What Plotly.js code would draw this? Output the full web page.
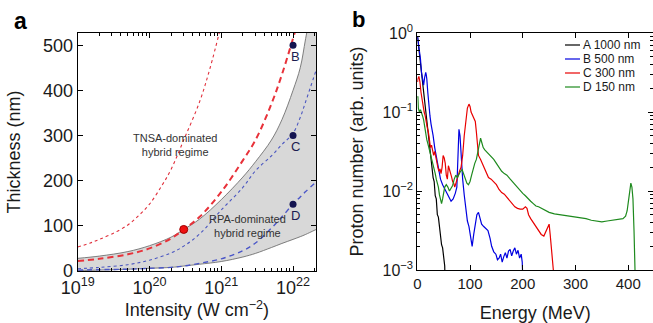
<!DOCTYPE html>
<html>
<head>
<meta charset="utf-8">
<script src="https://cdn.plot.ly/plotly-3.0.1.min.js"></script>
<style>html,body{margin:0;padding:0;background:#fff;}#chart{width:653px;height:323px;}</style>
</head>
<body>
<div id="chart"></div>
<script>
// ---------- Panel a data (intensity in W cm^-2, thickness in nm) ----------
const intensity = [1e19, 2e19, 5e19, 1e20, 2e20, 3e20, 5e20, 1e21, 2e21, 3e21, 5e21, 7e21, 1e22, 1.26e22, 1.5e22, 2.1e22];
const grayUpper = [28, 33, 43, 56, 75, 92, 115, 158, 208, 242, 290, 335, 400, 450, 515, 640];
const grayLower = [1, 2, 4, 6, 8, 11, 15, 21, 31, 39, 52, 61, 70, 76, 81, 92];
const redDashed = [22, 27, 37, 50, 72, 92, 120, 175, 245, 290, 370, 435, 515, 570, 620, 720];
const blueDotted = [5, 8, 14, 24, 40, 55, 82, 135, 185, 222, 255, 280, 305, 340, 375, 445];
const blueDashed = [2, 3, 4, 6, 8, 11, 17, 27, 45, 62, 95, 120, 148, 164, 176, 197];
const intensityTNSA = [1e19, 1.5e19, 2e19, 3e19, 5e19, 7e19, 1e20, 1.5e20, 2e20, 3e20, 5e20, 7e20, 1e21];
const redDotted = [53, 62, 70, 82, 102, 122, 148, 190, 225, 290, 375, 450, 545];
const caseIntensity = [1e22, 1e22, 1e22];
const caseThickness = [500, 300, 148];
const caseLabels = ['B', 'C', 'D'];
const optIntensity = [3e20];
const optThickness = [92];

// ---------- Panel b data (energy in MeV, log10 of proton number) ----------
const seriesNames = ['A 1000 nm', 'B 500 nm', 'C 300 nm', 'D 150 nm'];
const seriesColors = ['#000000', '#0000e0', '#e80000', '#1e8a1e'];
const energyA = [0.5, 2, 4, 6, 8, 10, 12, 14, 16, 18, 20, 22, 24, 26, 28, 30, 32, 34, 36, 38, 40, 42, 44, 46, 48, 50, 52, 53];
const log10A = [-0.05, -0.14, -0.22, -0.38, -0.47, -0.63, -0.72, -0.9, -1.0, -1.12, -1.2, -1.36, -1.42, -1.6, -1.66, -1.83, -1.88, -2.06, -2.1, -2.3, -2.33, -2.47, -2.53, -2.68, -2.72, -2.88, -2.95, -3.3];
const energyB = [0.5,2,4,6,8,10,12,14,16,17,18,20,22,24,26,28,30,33,36,40,44,48,52,56,60,64,68,72,75,77,79,81,83,86,89,92,95,98,101,104,107,110,113,116,119,122,126,130,134,138,141,145,149,152,155,158,161,164,167,170,173,176,179,182,185,188,191,194,197,199,201];
const log10B = [-0.05,-0.12,-0.28,-0.33,-0.5,-0.6,-0.66,-0.56,-0.5,-0.53,-0.58,-0.76,-0.95,-1.05,-1.15,-1.22,-1.3,-1.45,-1.55,-1.7,-1.85,-1.92,-1.97,-2.02,-2.08,-2.13,-2.1,-2.03,-1.95,-1.6,-1.22,-1.3,-1.6,-1.85,-2.05,-2.25,-2.38,-2.45,-2.6,-2.7,-2.55,-2.4,-2.3,-2.27,-2.33,-2.42,-2.45,-2.48,-2.5,-2.6,-2.7,-2.77,-2.8,-2.87,-2.85,-2.8,-2.9,-2.83,-2.78,-2.85,-2.76,-2.74,-2.82,-2.76,-2.72,-2.8,-2.75,-2.85,-2.8,-2.9,-3.3];
const energyC = [0.5,1,3,5,7,9,11,13,15,17,19,21,23,25,27,29,31,33,35,37,39,41,43,45,47,49,51,53,55,57,59,61,63,65,67,69,71,73,75,77,80,83,86,89,92,95,98,100,102,104,106,108,110,112,114,116,120,125,130,135,140,145,150,155,160,165,170,175,180,185,190,195,200,205,208,211,215,220,225,230,235,240,244,248,250,252,254,256,258,259];
const log10C = [-0.62,-0.58,-0.55,-0.62,-0.75,-0.85,-0.95,-1.0,-1.05,-1.15,-1.2,-1.25,-1.35,-1.45,-1.42,-1.5,-1.55,-1.5,-1.6,-1.63,-1.7,-1.75,-1.72,-1.78,-1.7,-1.55,-1.58,-1.65,-1.8,-1.85,-1.68,-1.72,-1.78,-1.82,-1.88,-1.9,-1.95,-1.9,-1.85,-1.8,-1.75,-1.7,-1.55,-1.3,-1.1,-0.95,-0.9,-0.93,-1.0,-1.03,-1.05,-1.08,-1.12,-1.25,-1.45,-1.55,-1.6,-1.67,-1.75,-1.83,-1.85,-1.88,-1.92,-1.98,-2.02,-2.04,-2.08,-2.13,-2.17,-2.2,-2.22,-2.23,-2.23,-2.2,-2.22,-2.3,-2.35,-2.4,-2.45,-2.5,-2.55,-2.57,-2.5,-2.45,-2.42,-2.55,-2.7,-2.85,-3.0,-3.3];
const energyD = [0.5,1,2,4,6,8,10,12,14,16,18,20,22,24,26,28,30,32,34,36,38,40,42,44,46,48,50,52,55,58,61,64,67,70,73,76,79,82,85,88,91,94,97,100,103,106,109,112,115,118,120,122,125,128,131,135,140,145,150,155,160,165,170,175,180,185,190,195,200,205,210,215,220,225,230,235,240,245,250,260,270,280,290,300,310,320,330,340,350,360,370,380,390,395,398,401,403,405,407,409,411,413,414];
const log10D = [-0.82,-0.8,-0.95,-1.0,-0.97,-1.0,-1.05,-1.1,-1.2,-1.28,-1.35,-1.4,-1.45,-1.5,-1.55,-1.6,-1.65,-1.72,-1.78,-1.85,-1.9,-1.95,-2.05,-2.12,-2.16,-2.1,-2.0,-1.95,-1.92,-1.95,-2.0,-1.97,-1.93,-1.85,-1.8,-1.83,-1.78,-1.75,-1.73,-1.78,-1.85,-1.9,-1.92,-1.88,-1.8,-1.72,-1.65,-1.6,-1.5,-1.38,-1.33,-1.38,-1.45,-1.48,-1.5,-1.53,-1.57,-1.6,-1.65,-1.7,-1.75,-1.78,-1.8,-1.84,-1.88,-1.92,-1.96,-2.0,-2.03,-2.06,-2.1,-2.13,-2.16,-2.19,-2.2,-2.22,-2.24,-2.26,-2.27,-2.29,-2.3,-2.31,-2.32,-2.33,-2.34,-2.35,-2.37,-2.38,-2.39,-2.38,-2.37,-2.36,-2.35,-2.32,-2.25,-2.1,-2.0,-1.9,-1.95,-2.1,-2.5,-3.0,-3.3];

const xTickVals = [1e19, 1e20, 1e21, 1e22];
const xTickText = ['10<sup>19</sup>', '10<sup>20</sup>', '10<sup>21</sup>', '10<sup>22</sup>'];
const yTickVals2 = [1e-3, 1e-2, 1e-1, 1];
const yTickText2 = ['10<sup>−3</sup>', '10<sup>−2</sup>', '10<sup>−1</sup>', '10<sup>0</sup>'];

// ---------- build ----------
const W = 653, H = 323;
const FONT = 'Liberation Sans, Arial, sans-serif';
const TXT = '#1a1a1a';
const toLin = a => a.map(v => Math.pow(10, v));
function minorLog(lo, hi) { const t = []; for (let d = lo; d < hi; d++) for (let k = 2; k <= 9; k++) t.push(k * Math.pow(10, d)); return t; }
const SPL = {shape: 'spline', smoothing: 1};

const traces = [
  {x: intensity, y: grayLower, xaxis: 'x', yaxis: 'y', mode: 'lines', line: Object.assign({color: '#707070', width: 0.9}, SPL), hoverinfo: 'skip'},
  {x: intensity, y: grayUpper, xaxis: 'x', yaxis: 'y', mode: 'lines', fill: 'tonexty', fillcolor: '#d8d8d8', line: Object.assign({color: '#707070', width: 0.9}, SPL), hoverinfo: 'skip'},
  {x: intensityTNSA, y: redDotted, xaxis: 'x', yaxis: 'y', mode: 'lines', line: Object.assign({color: '#e0303c', width: 1.1, dash: 'dot'}, SPL)},
  {x: intensity, y: blueDotted, xaxis: 'x', yaxis: 'y', mode: 'lines', line: Object.assign({color: '#4a56c0', width: 1.1, dash: 'dot'}, SPL)},
  {x: intensity, y: blueDashed, xaxis: 'x', yaxis: 'y', mode: 'lines', line: Object.assign({color: '#4a56c8', width: 1.4, dash: '5px,4px'}, SPL)},
  {x: intensity, y: redDashed, xaxis: 'x', yaxis: 'y', mode: 'lines', line: Object.assign({color: '#e8323a', width: 2, dash: '6px,4px'}, SPL)},
  {x: optIntensity, y: optThickness, xaxis: 'x', yaxis: 'y', mode: 'markers', marker: {color: '#ee1111', size: 8, line: {color: '#a00000', width: 1}}},
  {x: caseIntensity, y: caseThickness, xaxis: 'x', yaxis: 'y', mode: 'markers', marker: {color: '#141450', size: 7}},
  {x: energyA, y: toLin(log10A), xaxis: 'x2', yaxis: 'y2', mode: 'lines', name: seriesNames[0], line: {color: seriesColors[0], width: 1.2}},
  {x: energyB, y: toLin(log10B), xaxis: 'x2', yaxis: 'y2', mode: 'lines', name: seriesNames[1], line: {color: seriesColors[1], width: 1.2}},
  {x: energyC, y: toLin(log10C), xaxis: 'x2', yaxis: 'y2', mode: 'lines', name: seriesNames[2], line: {color: seriesColors[2], width: 1.2}},
  {x: energyD, y: toLin(log10D), xaxis: 'x2', yaxis: 'y2', mode: 'lines', name: seriesNames[3], line: {color: seriesColors[3], width: 1.2}}
];

const axisCommon = {showline: true, linecolor: '#000', linewidth: 1, mirror: 'ticks', ticks: 'inside', tickcolor: '#000', showgrid: false, zeroline: false, automargin: false};

const annotations = [
  {xref: 'paper', yref: 'paper', x: 12 / W, y: 1 - 21 / H, xanchor: 'left', yanchor: 'middle', text: '<b>a</b>', showarrow: false, font: {size: 23, color: '#000', family: FONT}},
  {xref: 'paper', yref: 'paper', x: 350 / W, y: 1 - 19 / H, xanchor: 'left', yanchor: 'middle', text: '<b>b</b>', showarrow: false, font: {size: 22, color: '#000', family: FONT}},
  {xref: 'x', yref: 'y', x: 20.357, y: 279, text: 'TNSA-dominated<br>hybrid regime', showarrow: false, font: {size: 11, color: '#333', family: FONT}},
  {xref: 'x', yref: 'y', x: 21.37, y: 99, text: 'RPA-dominated<br>hybrid regime', showarrow: false, font: {size: 11, color: '#333', family: FONT}}
];
caseLabels.forEach((t, i) => annotations.push({xref: 'x', yref: 'y', x: Math.log10(caseIntensity[i]), y: caseThickness[i], text: t, showarrow: false, xshift: 2, yshift: -11, font: {size: 13, color: '#1c1c50', family: FONT}}));

const shapes = [];
seriesNames.forEach((n, i) => {
  const py = 45 + i * 14;
  annotations.push({xref: 'paper', yref: 'paper', x: 581 / W, y: 1 - py / H, xanchor: 'left', yanchor: 'middle', text: n, showarrow: false, font: {size: 12, color: TXT, family: FONT}});
  shapes.push({type: 'line', xref: 'paper', yref: 'paper', x0: 565 / W, x1: 580 / W, y0: 1 - py / H, y1: 1 - py / H, line: {color: seriesColors[i], width: 1.2}});
});

const layout = {
  width: W, height: H,
  margin: {l: 0, r: 0, t: 0, b: 0},
  paper_bgcolor: '#fff', plot_bgcolor: '#fff',
  showlegend: false,
  font: {family: FONT, color: TXT},
  xaxis: Object.assign({}, axisCommon, {
    type: 'log', range: [19, 22.32], domain: [77.7 / W, 316 / W], anchor: 'y',
    tickmode: 'array', tickvals: xTickVals, ticktext: xTickText, ticklen: 5,
    tickfont: {size: 18, color: TXT, family: FONT}, ticklabelstandoff: 0,
    minor: {tickmode: 'array', tickvals: minorLog(19, 23), ticks: 'inside', ticklen: 3, tickcolor: '#000', showgrid: false},
    title: {text: 'Intensity (W cm<sup>−2</sup>)', font: {size: 18, color: TXT, family: FONT}, standoff: 6}
  }),
  yaxis: Object.assign({}, axisCommon, {
    range: [0, 527], domain: [1 - 271 / H, 1 - 33 / H], anchor: 'x',
    tickmode: 'array', tickvals: [0, 100, 200, 300, 400, 500], ticklen: 5,
    tickfont: {size: 18, color: TXT, family: FONT},
    title: {text: 'Thickness (nm)', font: {size: 18, color: TXT, family: FONT}, standoff: 17}
  }),
  xaxis2: Object.assign({}, axisCommon, {
    range: [0, 447], domain: [417.3 / W, 1], anchor: 'y2',
    tickmode: 'array', tickvals: [0, 100, 200, 300, 400], ticklen: 5,
    tickfont: {size: 15, color: TXT, family: FONT},
    title: {text: 'Energy (MeV)', font: {size: 18, color: TXT, family: FONT}, standoff: 19}
  }),
  yaxis2: Object.assign({}, axisCommon, {
    type: 'log', range: [-3, 0], domain: [1 - 270 / H, 1 - 33 / H], anchor: 'x2',
    tickmode: 'array', tickvals: yTickVals2, ticktext: yTickText2, ticklen: 5,
    tickfont: {size: 16, color: TXT, family: FONT},
    minor: {tickmode: 'array', tickvals: minorLog(-3, 0), ticks: 'inside', ticklen: 3, tickcolor: '#000', showgrid: false},
    title: {text: 'Proton number (arb. units)', font: {size: 18, color: TXT, family: FONT}, standoff: 14}
  }),
  annotations: annotations,
  shapes: shapes
};

Plotly.newPlot('chart', traces, layout, {displayModeBar: false, staticPlot: true});
</script>
</body>
</html>
